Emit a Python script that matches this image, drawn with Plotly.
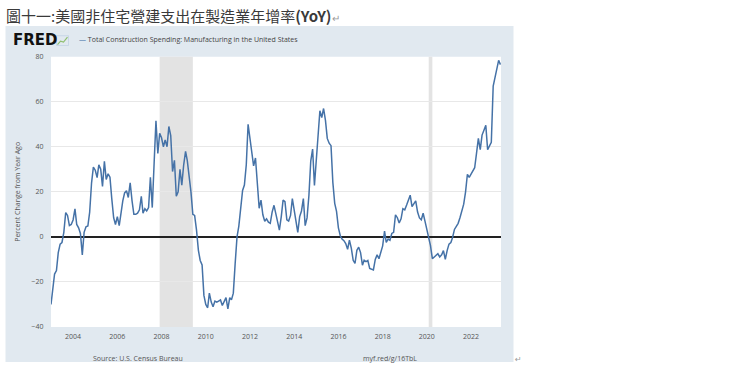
import plotly.graph_objects as go
import pandas as pd

# ---------------- data ----------------
start_month = "2003-01-01"
yoy_pct = [
    -30, -22, -16.5, -15, -7, -3.2, -2.5, 2, 10.8, 9.5, 5, 5.5,
    7.5, 12.4, 5.5, 4, 1.5, -8, 2, 4.5, 4.8, 11, 24, 31,
    29.6, 26.3, 32, 30, 22.4, 33.5, 25.5, 28, 26.5, 17, 8.5, 5.5,
    9, 5, 11, 16, 19.5, 20.5, 17.5, 24, 16, 10, 10, 10.5,
    12, 18, 10.5, 12.5, 11.5, 13, 26.5, 13, 33, 51.5, 37, 46,
    44, 40, 43, 40, 49, 45, 29, 34, 18, 20, 30, 23,
    32, 38, 34, 28, 20, 10, 9.5, 3, -6, -10.5, -12.5, -26,
    -30, -31.5, -25, -29, -31, -28.5, -29, -28.5, -28, -30.5, -29, -27,
    -32, -27, -28, -25, -12, 0, 4.8, 12, 20.6, 23, 32, 50,
    44, 37, 31.5, 35, 24, 12.7, 16.3, 9.8, 6.9, 8, 6.5, 6,
    11, 14, 10.5, 6.9, 3, 9, 16.3, 15.6, 7.6, 7, 9.5, 17,
    12, 8, 2, 9, 11.5, 17, 5, 8.4, 18.5, 33.6, 39, 22.8,
    34.3, 44.4, 56, 53, 57, 51.7, 43.7, 41.6, 40.5, 24.2, 14.9, 11.3,
    4, 0.5, -1, -1.7, -3, -5.5, -1.5, -5, -10.4, -11.8, -6, -4.6,
    -7, -12.6, -10.4, -11, -10.5, -14, -14.5, -14.7, -10, -8, -9.7, -6.5,
    -4, 2.6, -2.5, -1, -1.5, 1.5, 2, 9.8, 8.5, 6.2, 8, 12.5,
    12, 14.1, 16.5, 18.5, 13.4, 14.9, 16, 11, 8.4, 7.6, 10.5, 7,
    3, -1, -3.9, -9.7, -8.9, -8.2, -7.5, -8.9, -8, -6.1, -10, -6.1,
    -3.2, -2.5, -0.3, 3.3, 4.5, 6, 8.5, 11, 14.5, 19.9, 27.8, 26.4,
    27.8, 29.3, 30.7, 37.2, 43.7, 38.7, 45.2, 47.3, 49.5, 38.7, 40.5, 42,
    67, 71, 73, 78.4, 76.5,
]
months = pd.date_range(start_month, periods=len(yoy_pct), freq="MS")

recession_starts = ["2007-12-01", "2020-02-01"]
recession_ends = ["2009-06-01", "2020-04-01"]

x_tick_years = ["2004", "2006", "2008", "2010", "2012", "2014", "2016", "2018", "2020", "2022"]
y_tick_values = [-40, -20, 0, 20, 40, 60, 80]

title_text = "圖十一:美國非住宅營建支出在製造業年增率"
series_name = "Total Construction Spending: Manufacturing in the United States"
y_title = "Percent Change from Year Ago"
source_text = "Source: U.S. Census Bureau"
link_text = "myf.red/g/16TbL"

# ---------------- layout helpers ----------------
W, H = 740, 368
def px(x):
    return x / W
def py(y):
    return 1 - y / H

PLOT_L, PLOT_R, PLOT_T, PLOT_B = 51, 501, 53, 330
PANEL = "#e1e9f0"
LINE = "#4572a7"
TXT = "#555555"
FONT = "Open Sans"

fig = go.Figure()
fig.add_trace(go.Scatter(
    x=months, y=yoy_pct, mode="lines",
    line=dict(color=LINE, width=1.5),
    hoverinfo="skip", showlegend=False,
))

shapes = [
    dict(type="rect", xref="paper", yref="paper", layer="below",
         x0=px(5.5), x1=px(513.5), y0=py(366), y1=py(21.5),
         fillcolor=PANEL, line=dict(width=0)),
    dict(type="rect", xref="paper", yref="paper", layer="below",
         x0=px(PLOT_L), x1=px(PLOT_R), y0=py(PLOT_B), y1=py(PLOT_T),
         fillcolor="white", line=dict(width=0)),
]
for s, e in zip(recession_starts, recession_ends):
    shapes.append(dict(type="rect", xref="x", yref="paper", layer="below",
                       x0=s, x1=e, y0=py(PLOT_B), y1=py(PLOT_T),
                       fillcolor="#e3e3e3", line=dict(width=0)))

# small FRED chart icon
icon = "M {:.4f},{:.4f} L {:.4f},{:.4f} L {:.4f},{:.4f} L {:.4f},{:.4f}".format(
    px(57.5), py(40.5), px(60.5), py(37), px(63.5), py(38), px(67.5), py(33))
shapes.append(dict(type="path", xref="paper", yref="paper", path=icon,
                   line=dict(color="#8fbf6f", width=1.2)))
shapes.append(dict(type="rect", xref="paper", yref="paper",
                   x0=px(56.5), x1=px(68.5), y0=py(41.5), y1=py(31.5),
                   line=dict(color="#b9cbe0", width=0.6), fillcolor="rgba(0,0,0,0)"))

annotations = [
    dict(text=title_text + "<b>(YoY)</b>" + "<span style='color:#9a9a9a;font-size:10px'>↵</span>",
         xref="paper", yref="paper", x=px(4), y=py(11), xanchor="left", yanchor="middle",
         showarrow=False, font=dict(family="Noto Sans CJK TC", size=15, color="#3a3a3a")),
    dict(text="<b>FRED</b>", xref="paper", yref="paper", x=px(11), y=py(36),
         xanchor="left", yanchor="middle", showarrow=False,
         font=dict(family="DejaVu Sans", size=15, color="#111111")),
    dict(text="<span style='color:%s'>—</span> %s" % (LINE, series_name),
         xref="paper", yref="paper", x=px(77), y=py(35.5), xanchor="left", yanchor="middle",
         showarrow=False, font=dict(family=FONT, size=7, color="#444444")),
    dict(text=y_title, xref="paper", yref="paper", x=px(18), y=py((PLOT_T + PLOT_B) / 2),
         xanchor="center", yanchor="middle", textangle=-90, showarrow=False,
         font=dict(family=FONT, size=7, color=TXT)),
    dict(text=source_text, xref="paper", yref="paper", x=px(138), y=py(362),
         xanchor="center", yanchor="middle", showarrow=False,
         font=dict(family=FONT, size=7, color=TXT)),
    dict(text=link_text, xref="paper", yref="paper", x=px(390), y=py(362),
         xanchor="center", yanchor="middle", showarrow=False,
         font=dict(family=FONT, size=7, color=TXT)),
    dict(text="↵", xref="paper", yref="paper", x=px(518), y=py(363),
         xanchor="center", yanchor="middle", showarrow=False,
         font=dict(family="DejaVu Sans", size=8, color="#9a9a9a")),
]

fig.update_layout(
    width=W, height=H,
    margin=dict(l=0, r=0, t=0, b=0),
    paper_bgcolor="white", plot_bgcolor="white",
    shapes=shapes, annotations=annotations,
    xaxis=dict(
        domain=[px(PLOT_L), px(PLOT_R)],
        range=["2003-01-01", "2023-05-10"],
        tickvals=[y + "-01-01" for y in x_tick_years], ticktext=x_tick_years,
        showgrid=False, zeroline=False, showline=False,
        ticks="outside", ticklen=3, tickcolor=PANEL,
        tickfont=dict(family=FONT, size=7, color=TXT),
    ),
    yaxis=dict(
        domain=[py(PLOT_B), py(PLOT_T)],
        range=[-40, 80],
        tickvals=y_tick_values,
        showgrid=True, gridcolor="#e8e8e8", gridwidth=1,
        zeroline=True, zerolinecolor="#222222", zerolinewidth=1.8,
        showline=False,
        ticks="outside", ticklen=5, tickcolor=PANEL,
        tickfont=dict(family=FONT, size=7, color=TXT),
    ),
)

reset_page = (
    "document.documentElement.style.margin='0';"
    "document.body.style.margin='0';"
    "document.body.style.overflow='hidden';"
    "var d=document.getElementById('{plot_id}');"
    "d.style.position='absolute';d.style.left='0px';d.style.top='0px';"
)
fig.write_html("out.html", post_script=reset_page,
               config={"displayModeBar": False, "staticPlot": True})
